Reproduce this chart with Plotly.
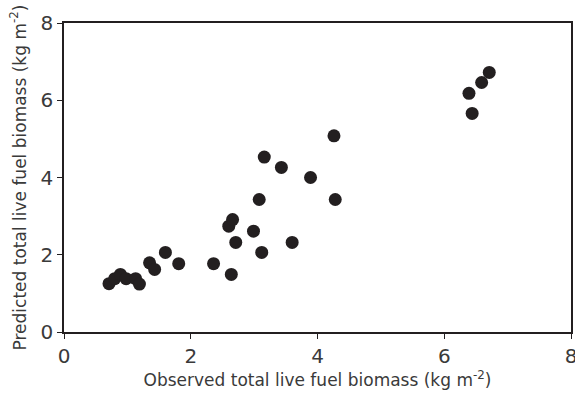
import plotly.graph_objects as go

observed = [0.71, 0.80, 0.89, 0.98, 1.13, 1.19, 1.35, 1.43, 1.60, 1.81,
            2.36, 2.64, 2.71, 2.60, 2.66, 2.99, 3.12, 3.08, 3.16, 3.43,
            3.60, 3.89, 4.26, 4.28, 6.39, 6.44, 6.59, 6.71]
predicted = [1.25, 1.38, 1.49, 1.38, 1.38, 1.24, 1.79, 1.62, 2.06, 1.77,
             1.77, 1.49, 2.32, 2.74, 2.91, 2.61, 2.06, 3.43, 4.53, 4.26,
             2.32, 4.00, 5.08, 3.43, 6.18, 5.66, 6.46, 6.72]

tick_vals = [0, 2, 4, 6, 8]
tick_text = ["0", "2", "4", "6", "8"]

ink = "#231f20"
text_col = "#3a3a3a"
font_family = "DejaVu Sans, Verdana, sans-serif"

fig = go.Figure(go.Scatter(
    x=observed, y=predicted, mode="markers",
    marker=dict(size=13, color=ink, line=dict(width=0)),
    hoverinfo="x+y", cliponaxis=False,
))

axis_common = dict(
    range=[0, 8], tickvals=tick_vals, ticktext=tick_text,
    showgrid=False, zeroline=False, showline=True, linecolor=ink, linewidth=1.5,
    mirror=True, ticks="outside", ticklen=5, tickwidth=1, tickcolor=ink,
    tickfont=dict(family=font_family, size=20, color=text_col),
    automargin=False, ticklabeloverflow="allow",
)

fig.update_layout(
    width=575, height=394,
    margin=dict(l=64, r=4, t=23, b=62),
    paper_bgcolor="white", plot_bgcolor="white",
    showlegend=False,
    font=dict(family=font_family, color=text_col),
    xaxis=dict(**axis_common,
               title=dict(text="Observed total live fuel biomass (kg m<sup>-2</sup>)",
                          font=dict(family=font_family, size=17, color=text_col),
                          standoff=4)),
    yaxis=dict(**axis_common,
               title=dict(text="Predicted total live fuel biomass (kg m<sup>-2</sup>)",
                          font=dict(family=font_family, size=17, color=text_col),
                          standoff=10)),
)

fig.write_html(
    "out.html",
    config={"displayModeBar": False},
    post_script="document.body.style.margin='0';document.body.style.overflow='hidden';",
)
